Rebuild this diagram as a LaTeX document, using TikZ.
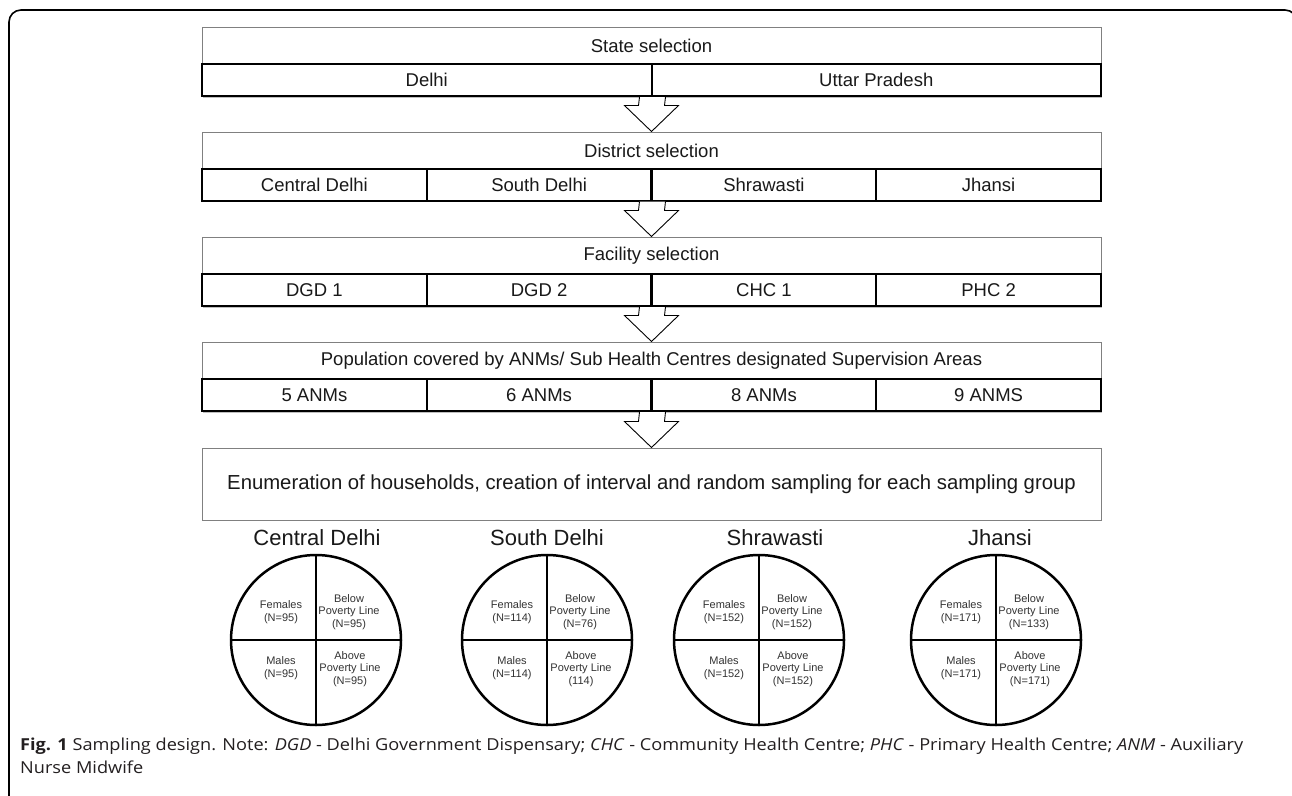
\documentclass[tikz,border=0pt]{standalone}
\usepackage{fontspec}
\setmainfont{Liberation Sans}
\newfontfamily\capfont{Open Sans}
\usetikzlibrary{calc,shadows}
\definecolor{capgray}{HTML}{231F20}
\definecolor{hdrline}{HTML}{808080}
\tikzset{
  hdr/.style={draw=hdrline, line width=1pt, fill=white, minimum width=899, minimum height=37, inner sep=0, font=\fontsize{18.5}{22}\selectfont, text=black!90},
  cell/.style={draw=black, line width=2pt, fill=white, minimum height=32, inner sep=0, font=\fontsize{18.5}{22}\selectfont, text=black!90,
    drop shadow={shadow xshift=1pt, shadow yshift=-1.5pt, opacity=0.25, fill=black}},
  barrow/.style={draw=black, line width=0.9pt, fill=white, line join=miter},
  ring/.style={circle, draw=black, line width=2.5pt, minimum size=170, inner sep=0},
  quad/.style={align=center, font=\fontsize{11}{12.6}\selectfont, text=black!80, inner sep=0},
  ctitle/.style={font=\fontsize{22}{26}\selectfont, text=black!90, inner sep=0, anchor=base},
  crossline/.style={line width=2.5pt},
  frameline/.style={line width=1.6pt, rounded corners=12pt},
  capline/.style={font=\capfont\fontsize{16.5}{20}\selectfont, text=capgray, inner sep=0, anchor=base west},
}
\newcommand\blockarrow[2]{%
  \draw[barrow] ($(#1)+(-13pt,0pt)$) -- ($(#2)+(-13pt,26pt)$) -- ($(#2)+(-27pt,26pt)$) -- (#2)
    -- ($(#2)+(27pt,26pt)$) -- ($(#2)+(13pt,26pt)$) -- ($(#1)+(13pt,0pt)$);}
\newcommand\capone{\textbf{Fig. 1} Sampling design. Note: \textit{DGD} - Delhi Government Dispensary; \textit{CHC} - Community Health Centre; \textit{PHC} - Primary Health Centre; \textit{ANM} - Auxiliary}
\newlength\capw
\AtBeginDocument{%
  \settowidth\capw{\capfont\fontsize{16.5}{20}\selectfont\capone}%
  \pgfmathsetmacro\capsx{1223/\capw}%
}
\begin{document}
\begin{tikzpicture}[x=1pt,y=-1pt]
\useasboundingbox (0,0) rectangle (1292,795);
\fill[white] (0,0) rectangle (1292,795);
% outer frame
\draw[frameline] (9,820) -- (9,10) -- (1297,10) -- (1297,820);

% stage 1
\node[hdr] (h1) at (651.5,45.5) {State selection};
\node[cell, minimum width=449.5] (s1a) at (426.75,80) {Delhi};
\node[cell, minimum width=449.5] (s1b) at (876.25,80) {Uttar Pradesh};
% stage 2
\node[hdr] (h2) at (651.5,150.5) {District selection};
\node[cell, minimum width=224.75] (s2a) at (314.4,184.5) {Central Delhi};
\node[cell, minimum width=224.75] (s2b) at (539.1,184.5) {South Delhi};
\node[cell, minimum width=224.75] (s2c) at (763.9,184.5) {Shrawasti};
\node[cell, minimum width=224.75] (s2d) at (988.6,184.5) {Jhansi};
% stage 3
\node[hdr] (h3) at (651.5,255.5) {Facility selection};
\node[cell, minimum width=224.75] (s3a) at (314.4,290) {DGD 1};
\node[cell, minimum width=224.75] (s3b) at (539.1,290) {DGD 2};
\node[cell, minimum width=224.75] (s3c) at (763.9,290) {CHC 1};
\node[cell, minimum width=224.75] (s3d) at (988.6,290) {PHC 2};
% stage 4
\node[hdr] (h4) at (651.5,360.5) {Population covered by ANMs/ Sub Health Centres designated Supervision Areas};
\node[cell, minimum width=224.75] (s4a) at (314.4,395) {5 ANMs};
\node[cell, minimum width=224.75] (s4b) at (539.1,395) {6 ANMs};
\node[cell, minimum width=224.75] (s4c) at (763.9,395) {8 ANMs};
\node[cell, minimum width=224.75] (s4d) at (988.6,395) {9 ANMS};
% enumeration
\node[hdr, minimum height=72, font=\fontsize{20.3}{24}\selectfont] (en) at (651.5,484) {Enumeration of households, creation of interval and random sampling for each sampling group};

% block arrows
\blockarrow{s1a.south east}{h2.north}
\blockarrow{s2b.south east}{h3.north}
\blockarrow{s3b.south east}{h4.north}
\blockarrow{s4b.south east}{en.north}

% circles
\foreach \n/\cx/\tx/\title/\F/\B/\M/\A in {
  c1/316/317/Central Delhi/Females\\(N=95)/Below\\Poverty Line\\(N=95)/Males\\(N=95)/Above\\Poverty Line\\(N=95),
  c2/547/547/South Delhi/Females\\(N=114)/Below\\Poverty Line\\(N=76)/Males\\(N=114)/Above\\Poverty Line\\(114),
  c3/759/775/Shrawasti/Females\\(N=152)/Below\\Poverty Line\\(N=152)/Males\\(N=152)/Above\\Poverty Line\\(N=152),
  c4/996/1000/Jhansi/Females\\(N=171)/Below\\Poverty Line\\(N=133)/Males\\(N=171)/Above\\Poverty Line\\(N=171)}{
  \node[ring] (\n) at (\cx,640) {};
  \draw[crossline] (\n.north) -- (\n.south);
  \draw[crossline] (\n.west) -- (\n.east);
  \node[ctitle] (\n t) at (\tx,545) {\title};
  \node[quad] (\n f) at ($(\n)+(-35,-28)$) {\F};
  \node[quad] (\n b) at ($(\n)+(33,-28)$) {\B};
  \node[quad] (\n m) at ($(\n)+(-35,28)$) {\M};
  \node[quad] (\n a) at ($(\n)+(34,29)$) {\A};
}

% caption
\node[capline] (cap1) at (20,750) {\scalebox{\capsx}[1]{\capone}};
\node[capline] (cap2) at (20,773) {\scalebox{\capsx}[1]{Nurse Midwife}};
\end{tikzpicture}
\end{document}
